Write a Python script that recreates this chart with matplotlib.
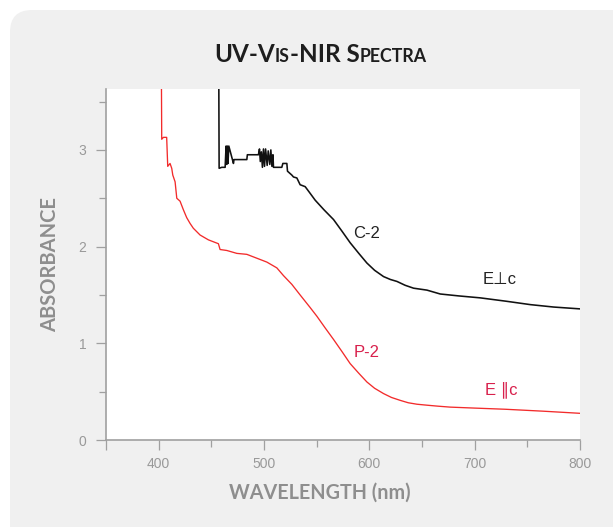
import matplotlib.pyplot as plt
import matplotlib.patches as mpatches
import numpy as np

# E parallel c (P-2), red trace
red_wl = [402.5, 402.9, 404.5, 407.6, 408.6, 410.8, 412.4, 413.4, 415.6, 417.2,
          420.3, 423.5, 426.6, 429.8, 432.9, 439.3, 447.2, 456.7, 458.3, 464.7,
          474.2, 483.7, 493.2, 502.7, 512.2, 518.5, 526.4, 534.3, 543.8, 550.2,
          558.0, 566.0, 574.0, 581.8, 590.0, 597.7, 605.0, 613.5, 621.0, 629.3,
          637.0, 645.2, 654.7, 665.0, 676.8, 700.0, 729.0, 765.0, 800.0]
red_abs = [4.00, 3.11, 3.13, 3.13, 2.83, 2.86, 2.81, 2.74, 2.67, 2.50,
           2.47, 2.38, 2.30, 2.24, 2.19, 2.12, 2.07, 2.03, 1.97, 1.96,
           1.93, 1.92, 1.88, 1.84, 1.78, 1.70, 1.61, 1.50, 1.37, 1.28,
           1.16, 1.04, 0.915, 0.79, 0.69, 0.60, 0.535, 0.48, 0.44, 0.41,
           0.385, 0.37, 0.36, 0.35, 0.34, 0.33, 0.318, 0.298, 0.276]

# E perpendicular c (C-2), black trace
blk_wl = [457.0, 457.4, 459.9, 463.1, 464.0, 464.6, 465.2, 465.8, 466.6, 471.0,
          471.5, 483.7, 484.2, 494.7, 495.7, 496.5, 497.5, 498.5, 499.5, 500.5,
          501.5, 503.0, 504.0, 505.5, 506.5, 507.5, 508.5, 509.0, 516.9, 517.9,
          521.7, 522.3, 526.4, 528.0, 531.2, 534.3, 539.1, 543.2, 548.6, 557.0,
          566.0, 574.0, 581.8, 590.0, 597.7, 605.0, 613.5, 620.0, 626.2, 634.0,
          642.0, 654.7, 667.3, 685.0, 705.3, 730.0, 752.9, 775.0, 800.0]
blk_abs = [4.00, 2.81, 2.82, 2.82, 3.04, 2.85, 3.04, 2.86, 3.04, 2.86,
           2.90, 2.90, 2.95, 2.95, 3.01, 2.88, 2.98, 2.82, 3.01, 2.83,
           3.01, 2.84, 2.99, 2.85, 3.00, 2.83, 2.95, 2.82, 2.82, 2.86,
           2.86, 2.78, 2.74, 2.72, 2.71, 2.64, 2.62, 2.56, 2.48, 2.38,
           2.28, 2.16, 2.04, 1.93, 1.83, 1.755, 1.69, 1.66, 1.64, 1.60,
           1.57, 1.55, 1.51, 1.49, 1.47, 1.435, 1.40, 1.375, 1.356]

x_major = [350, 400, 500, 600, 700, 800]
x_major_labels = ['', '400', '500', '600', '700', '800']
x_minor = [450, 550, 650, 750]
y_major = [0, 1, 2, 3]
y_minor = [0.5, 1.5, 2.5, 3.5]

W, H = 613, 527
fig = plt.figure(figsize=(W / 100, H / 100), dpi=100)
fig.patch.set_facecolor('white')

# gray rounded panel behind everything
panel = mpatches.FancyBboxPatch((0.10, -0.5), 6.4, 5.17 + 0.5,
                                boxstyle='round,pad=0,rounding_size=0.22',
                                transform=fig.dpi_scale_trans,
                                facecolor='#f0f0f0', edgecolor='none', zorder=-5)
fig.patches.append(panel)

ax = fig.add_axes([106 / W, 1 - 440 / H, (580 - 106) / W, (440 - 89) / H])
ax.set_zorder(2)
ax.set_facecolor('white')
ax.plot(red_wl, red_abs, color='#f22b2b', lw=0.95, zorder=3)
ax.plot(blk_wl, blk_abs, color='#111111', lw=1.15, zorder=3)

ax.set_xlim(350, 800)
ax.set_ylim(0, 3.63)
for s in ['top', 'right']:
    ax.spines[s].set_visible(False)
for s in ['left', 'bottom']:
    ax.spines[s].set_color('#a0a0a0')
    ax.spines[s].set_linewidth(1.2)

ax.set_xticks(x_major)
ax.set_xticklabels(x_major_labels)
ax.set_xticks(x_minor, minor=True)
ax.set_yticks(y_major)
ax.set_yticks(y_minor, minor=True)
ax.tick_params(which='major', direction='out', length=7, width=0.9, color='#a0a0a0',
               labelcolor='#999999', labelsize=10)
ax.tick_params(which='minor', direction='out', length=5, width=0.9, color='#a0a0a0')
ax.tick_params(axis='x', which='major', pad=5)
ax.tick_params(axis='y', which='major', pad=7)
for lab in ax.get_xticklabels() + ax.get_yticklabels():
    lab.set_fontfamily('Liberation Sans')

# curve labels
sym = ['Liberation Sans', 'DejaVu Sans']
ax.text(597, 2.14, 'C-2', color='#222222', fontsize=12, family=sym,
        ha='center', va='center')
ax.text(724, 1.66, 'E\u22a5c', color='#222222', fontsize=12, family=sym,
        ha='center', va='center')
ax.text(597, 0.91, 'P-2', color='#d8204c', fontsize=12, family=sym,
        ha='center', va='center')
ax.text(725, 0.52, 'E \u2225c', color='#d8204c', fontsize=12, family=sym,
        ha='center', va='center')

# axis titles
fig.text(50.5 / W, 1 - 265 / H, 'ABSORBANCE', rotation=90, ha='center', va='center',
         fontsize=14.5, fontweight='bold', family='Lato', color='#8e8e8e')
fig.text(320 / W, 1 - 492.5 / H, 'WAVELENGTH (nm)', ha='center', va='center',
         fontsize=14.2, fontweight='bold', family='Lato', color='#8e8e8e')

# title in small caps, built from pieces
pieces = [('UV-V', 17.5), ('IS', 12.8), ('-NIR S', 17.5), ('PECTRA', 12.8)]
renderer = fig.canvas.get_renderer()
texts = []
widths = []
for s, fs in pieces:
    t = fig.text(0, 1 - 61.5 / H, s, fontsize=fs, fontweight='bold', family='Lato',
                 color='#1e1e1e', ha='left', va='baseline')
    texts.append(t)
    widths.append(t.get_window_extent(renderer).width)
x0 = 320.5 - sum(widths) / 2
for t, w in zip(texts, widths):
    t.set_x(x0 / W)
    x0 += w

fig.savefig('out.png', dpi=100)
